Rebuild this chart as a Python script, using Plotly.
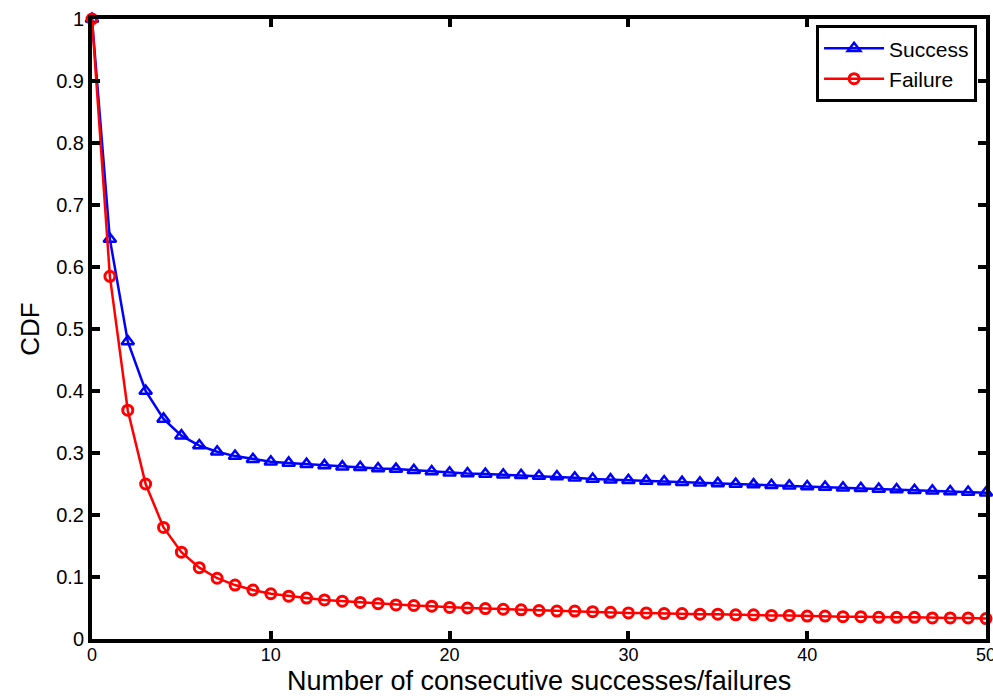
import plotly.graph_objects as go

x_vals = list(range(0, 51))

success = [1.0, 0.645, 0.48, 0.40, 0.355, 0.328, 0.312, 0.302, 0.295, 0.290,
           0.286, 0.284, 0.282, 0.280, 0.278, 0.277, 0.275, 0.274, 0.272, 0.270,
           0.268, 0.267, 0.266, 0.265, 0.264, 0.263, 0.262, 0.260, 0.258, 0.257,
           0.256, 0.255, 0.254, 0.253, 0.252, 0.251, 0.250, 0.249, 0.248, 0.247,
           0.246, 0.245, 0.244, 0.243, 0.242, 0.241, 0.240, 0.239, 0.238, 0.237,
           0.236]

failure = [1.0, 0.585, 0.369, 0.25, 0.18, 0.14, 0.115, 0.098, 0.087, 0.079,
           0.073, 0.069, 0.066, 0.063, 0.061, 0.059, 0.057, 0.055, 0.054, 0.053,
           0.051, 0.050, 0.049, 0.048, 0.047, 0.046, 0.045, 0.045, 0.044, 0.043,
           0.042, 0.042, 0.041, 0.041, 0.040, 0.040, 0.039, 0.039, 0.038, 0.038,
           0.037, 0.037, 0.036, 0.036, 0.035, 0.035, 0.035, 0.034, 0.034, 0.034,
           0.033]

x_ticks = [0, 10, 20, 30, 40, 50]
y_ticks = [0, 0.1, 0.2, 0.3, 0.4, 0.5, 0.6, 0.7, 0.8, 0.9, 1]
y_tick_labels = ["0", "0.1", "0.2", "0.3", "0.4", "0.5", "0.6", "0.7", "0.8", "0.9", "1"]
x_title = "Number of consecutive successes/failures"
y_title = "CDF"

FONT = "Liberation Sans, Arial, sans-serif"
M_L, M_R, M_T, M_B = 92, 7, 19, 57
H = 696

fig = go.Figure()
fig.add_trace(go.Scatter(
    x=x_vals, y=success, name="Success", mode="lines+markers",
    line=dict(color="#0000ff", width=2.5),
    marker=dict(symbol="triangle-up-open", size=11, color="#0000ff",
                line=dict(width=2.5, color="#0000ff")),
    cliponaxis=False,
))
fig.add_trace(go.Scatter(
    x=x_vals, y=failure, name="Failure", mode="lines+markers",
    line=dict(color="#ff0000", width=2.5),
    marker=dict(symbol="circle-open", size=10, color="#ff0000",
                line=dict(width=3, color="#ff0000")),
    cliponaxis=False,
))

fig.update_layout(
    width=993, height=H,
    margin=dict(l=M_L, r=M_R, t=M_T, b=M_B),
    paper_bgcolor="white", plot_bgcolor="white",
    font=dict(family=FONT, color="black", size=19),
    showlegend=True,
    legend=dict(
        x=0.99, y=0.99, xanchor="right", yanchor="top",
        bordercolor="black", borderwidth=3, bgcolor="white",
        font=dict(size=21, family=FONT, color="black"),
        tracegroupgap=0, itemwidth=60,
    ),
    xaxis=dict(
        range=[0, 50], tickvals=x_ticks, ticktext=[str(t) for t in x_ticks],
        showgrid=False, zeroline=False, automargin=False,
        showline=True, linecolor="black", linewidth=4, mirror="ticks",
        ticks="inside", ticklen=8, tickwidth=4, tickcolor="black",
        tickfont=dict(size=18, family=FONT),
        ticklabeloverflow="allow", ticklabelstandoff=-4,
    ),
    yaxis=dict(
        range=[0, 1], tickvals=y_ticks, ticktext=y_tick_labels,
        showgrid=False, zeroline=False, automargin=False,
        showline=True, linecolor="black", linewidth=4, mirror="ticks",
        ticks="inside", ticklen=8, tickwidth=4, tickcolor="black",
        tickfont=dict(size=20, family=FONT),
        title=dict(text=y_title, font=dict(size=26, family=FONT), standoff=10),
    ),
    annotations=[dict(
        text=x_title, xref="paper", yref="paper",
        x=0.5, y=-M_B / (H - M_T - M_B), xanchor="center", yanchor="bottom",
        yshift=-2, showarrow=False,
        font=dict(size=27, family=FONT, color="black"),
    )],
)

fig.write_html("out.html")
